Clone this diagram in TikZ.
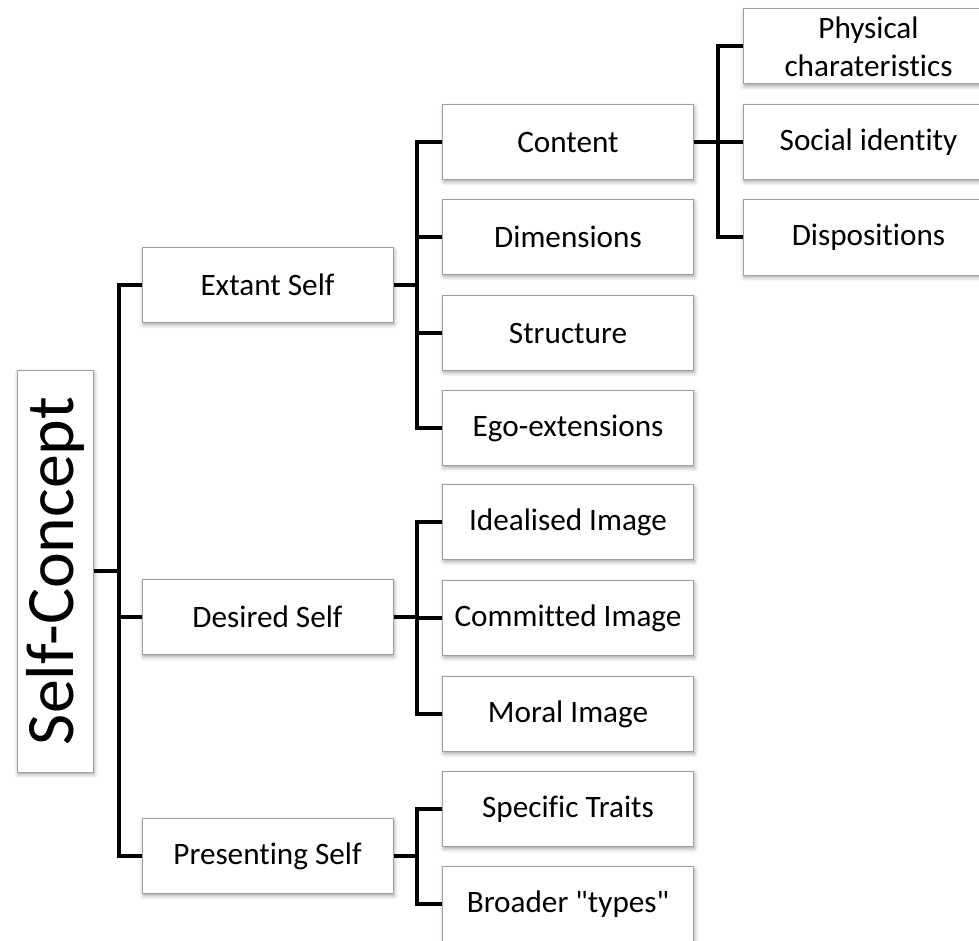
\documentclass[tikz,border=0pt]{standalone}
\usepackage{fontspec}
\setmainfont{Carlito}[Ligatures={NoCommon}]
\usetikzlibrary{positioning,shadows.blur}
\tikzset{
	item/.style = {
			draw            = gray!75,
			fill            = white,
			line width      = 0.5pt,
			minimum width   = 125.5pt,
			minimum height  = 37.5pt,
			inner sep       = 0pt,
			align           = center,
			font            = \fontsize{15.6}{19}\selectfont,
			blur shadow     = {shadow xshift=0.6pt, shadow yshift=-1.2pt,
					shadow blur steps=4, shadow opacity=35},
		},
	link/.style = {
			draw            = black,
			line width      = 2pt,
		}
}

\begin{document}
\begin{tikzpicture}[x=0.5pt,y=-0.5pt]
		\useasboundingbox (0,0) rectangle (979,941);

		\node[item, rotate=90, minimum width=201pt, minimum height=38pt,
			font=\fontsize{33.9}{40}\selectfont]
		(self) at (55,571) {Self-Concept};

		% first level (self is turned, so its right side is south)
		\foreach \y/\n/\A in {285/extant/Extant Self, 617/desired/Desired Self,
				856/presenting/Presenting Self} {
				\node[item] (\n) at (267.5,\y) {\A};
				\draw[link] (self.south) -- ++(25,0) |- (\n.west);
			}

		% second level
		\foreach \y/\n/\A in {142/content/Content, 237/dimensions/Dimensions,
				333/structure/Structure, 428/ego/Ego-extensions} {
				\node[item] (\n) at (568,\y) {\A};
				\draw[link] (extant.east) -- ++(23.5,0) |- (\n.west);
			}
		\foreach \y/\n/\A in {522/idealised/Idealised Image,
				618/committed/Committed Image, 714/moral/Moral Image} {
				\node[item] (\n) at (568,\y) {\A};
				\draw[link] (desired.east) -- ++(23.5,0) |- (\n.west);
			}
		\foreach \y/\n/\A in {809/traits/Specific Traits,
				904/types/Broader \textquotedbl types\textquotedbl} {
				\node[item] (\n) at (568,\y) {\A};
				\draw[link] (presenting.east) -- ++(23.5,0) |- (\n.west);
			}

		% third level
		\foreach \y/\n/\A in {46.5/physical/{Physical\\charateristics},
				142/social/Social identity, 237.5/dispositions/Dispositions} {
				\node[item] (\n) at (868.5,\y) {\A};
				\draw[link] (content.east) -- ++(24,0) |- (\n.west);
			}
	\end{tikzpicture}
\end{document}
